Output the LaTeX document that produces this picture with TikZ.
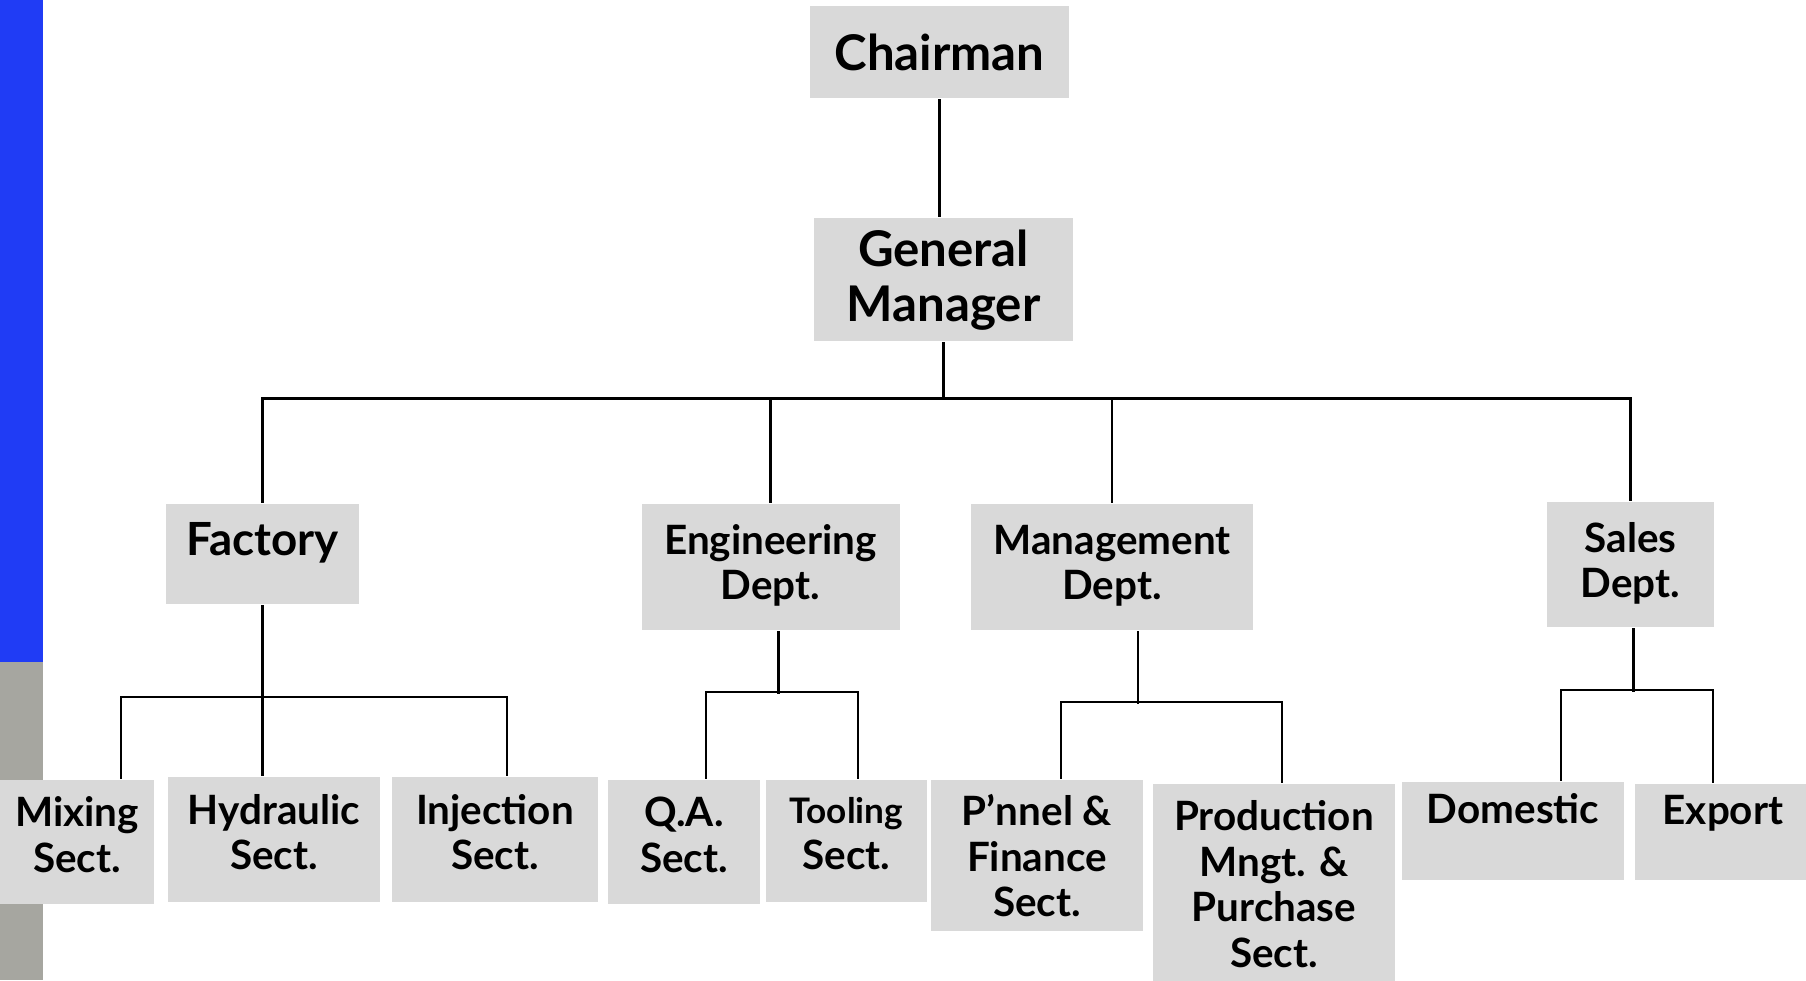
\documentclass[tikz,border=0pt]{standalone}
\usepackage{fontspec}
\setmainfont{Lato}
\definecolor{boxgray}{RGB}{217,217,217}
\definecolor{stripblue}{RGB}{32,60,245}
\definecolor{stripgray}{RGB}{166,166,160}

\begin{document}
\begin{tikzpicture}[
    line width=0.6pt,
    head/.style={fill=boxgray, align=center, inner sep=2pt,
                font=\fontsize{14}{15.5}\selectfont\bfseries},
    dept/.style={fill=boxgray, align=center, inner sep=2pt, text depth=0.1cm,
                font=\fontsize{11.5}{12.8}\selectfont\bfseries},
    sect/.style={fill=boxgray, align=center, inner sep=2pt, text depth=0.15cm,
                font=\fontsize{11.5}{13}\selectfont\bfseries},
    topsect/.style={sect, text depth=0.45cm},
]
\clip (0,0) rectangle (18.06,-9.80);

% Side strip
\fill[stripblue] (0,0) rectangle (0.43,-6.62);
\fill[stripgray] (0,-6.62) rectangle (0.43,-9.80);

% Chairman
\node[head, minimum width=2.59cm, minimum height=0.92cm] at (9.395,-0.52) (Chairman) {Chairman};

% General Manager
\node[head, minimum width=2.59cm, minimum height=1.23cm, text depth=0.08cm] at (9.435,-2.795) (GeneralManager) {General\\Manager};

% Departments
\node[dept, minimum width=1.93cm, minimum height=1.00cm, text depth=0.3cm, font=\fontsize{13}{14}\selectfont\bfseries] at (2.625,-5.54) (Factory) {Factory};
\node[dept, minimum width=2.58cm, minimum height=1.26cm] at (7.705,-5.67) (EngineeringDept) {Engineering\\Dept.};
\node[dept, minimum width=2.82cm, minimum height=1.26cm] at (11.12,-5.67) (ManagementDept) {Management\\Dept.};
\node[dept, minimum width=1.67cm, minimum height=1.25cm] at (16.305,-5.645) (SalesDept) {Sales\\Dept.};

% Factory sections
\node[sect, minimum width=1.54cm, minimum height=1.24cm] at (0.77,-8.42) (MixingSect) {Mixing\\Sect.};
\node[sect, minimum width=2.12cm, minimum height=1.25cm] at (2.74,-8.395) (HydraulicSect) {Hydraulic\\Sect.};
\node[sect, minimum width=2.06cm, minimum height=1.25cm] at (4.95,-8.395) (InjectionSect) {Injection\\Sect.};

% Engineering sections
\node[sect, minimum width=1.52cm, minimum height=1.24cm] at (6.84,-8.42) (QASect) {Q.A.\\Sect.};
\node[sect, minimum width=1.61cm, minimum height=1.22cm, font=\fontsize{10}{13}\selectfont\bfseries] at (8.465,-8.41) (ToolingSect) {Tooling\\\fontsize{11.5}{13}\selectfont Sect.};

% Management sections
\node[sect, minimum width=2.12cm, minimum height=1.51cm, text depth=0cm] at (10.37,-8.555) (PnnelSect) {P'nnel \&\\Finance\\Sect.};
\node[sect, minimum width=2.42cm, minimum height=2.00cm, text depth=0cm] at (12.74,-8.84) (ProductionSect) {Production\\Mngt. \&\\Purchase\\Sect.};

% Sales sections
\node[topsect, minimum width=2.22cm, minimum height=0.98cm] at (15.13,-8.31) (Domestic) {Domestic};
\node[topsect, minimum width=1.76cm, minimum height=0.96cm] at (17.23,-8.32) (Export) {Export};

% Lines
\coordinate (Bus) at (9.44,-3.985);
\draw (Chairman) -- (Chairman |- GeneralManager.north);
\draw (GeneralManager.south) -- (GeneralManager.south |- Bus);
\draw (Factory.north) |- (SalesDept.north |- Bus) -- (SalesDept.north);
\draw (EngineeringDept.north) -- (EngineeringDept.north |- Bus);
\draw (ManagementDept.north) -- (ManagementDept.north |- Bus);

\draw (Factory.south) -- (Factory.south |- HydraulicSect.north);
\draw ([xshift=0.44cm]MixingSect.north) -- ++(0,0.82) -| ([xshift=0.12cm]InjectionSect.north);

\draw ([xshift=0.08cm]EngineeringDept.south) -- ++(0,-0.63);
\draw ([xshift=0.22cm]QASect.north) -- ++(0,0.87) -| ([xshift=0.115cm]ToolingSect.north);

\draw ([xshift=0.26cm]ManagementDept.south) -- ++(0,-0.73);
\draw ([xshift=0.24cm]PnnelSect.north) -- ++(0,0.77) -| ([xshift=0.08cm]ProductionSect.north);

\draw ([xshift=0.03cm]SalesDept.south) -- ++(0,-0.64);
\draw ([xshift=0.48cm]Domestic.north) -- ++(0,0.91) -| ([xshift=-0.10cm]Export.north);

\end{tikzpicture}
\end{document}
